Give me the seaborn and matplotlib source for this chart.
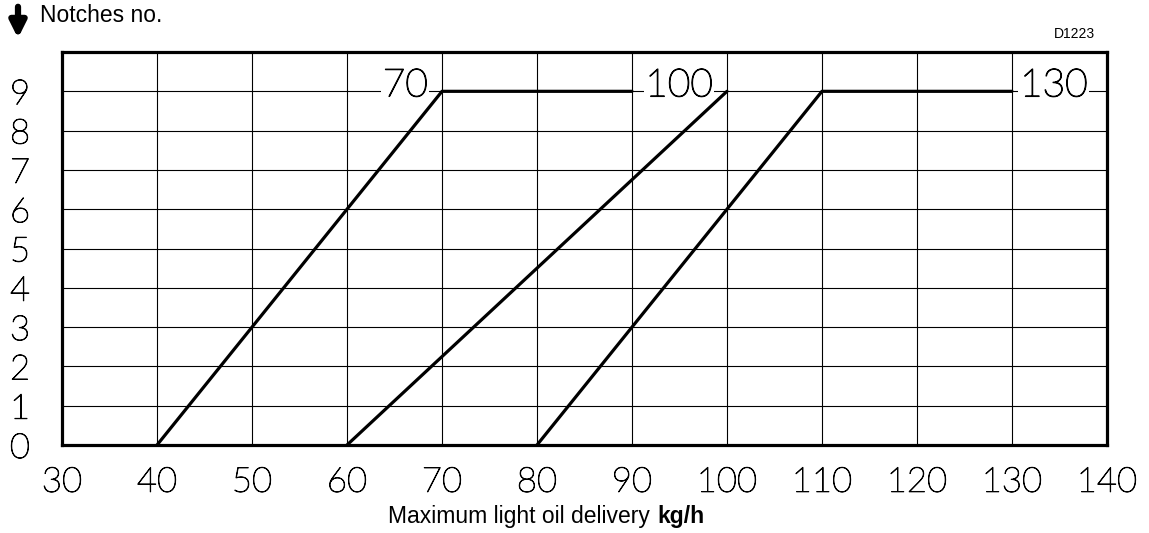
import pandas as pd
import matplotlib.pyplot as plt
import matplotlib.patheffects as pe
import seaborn as sns

# ---------- DATA ----------
curve_names = ["70", "100", "130"]
curve_x = [[40, 70, 90], [60, 100], [80, 110, 130]]
curve_y = [[0, 9, 9], [0, 9], [0, 9, 9]]
x_ticks = [30, 40, 50, 60, 70, 80, 90, 100, 110, 120, 130, 140]
y_ticks = [0, 1, 2, 3, 4, 5, 6, 7, 8, 9]

rows = []
for name, xs, ys in zip(curve_names, curve_x, curve_y):
    for i, (x, y) in enumerate(zip(xs, ys)):
        rows.append({"curve": name, "order": i, "delivery": x, "notch": y})
df = pd.DataFrame(rows)

# ---------- STYLE ----------
sns.set_theme(style="white")
plt.rcParams['font.family'] = ['Liberation Sans', 'DejaVu Sans']
plt.rcParams['text.color'] = 'black'
plt.rcParams['xtick.color'] = 'black'
plt.rcParams['ytick.color'] = 'black'
# thin technical-drawing digits: very light font, slightly thickened by a stroke
thin = [pe.withStroke(linewidth=0.7, foreground="black")]
TICK_FONT = dict(family='Lato', weight='light', size=25, color='black')

fig = plt.figure(figsize=(11.49, 5.33), dpi=100)
ax = fig.add_axes([0.054, 0.1651, 0.9094, 0.7373])

sns.lineplot(data=df, x="delivery", y="notch", units="curve", estimator=None,
             sort=False, color="black", linewidth=2.3, ax=ax, legend=False,
             zorder=3)

ax.set_xlim(30, 140)
ax.set_ylim(0, 10)
ax.set_xticks(x_ticks)
ax.set_yticks(y_ticks)
ax.set_xticklabels([str(v) for v in x_ticks], fontdict=TICK_FONT)
ax.set_yticklabels([str(v) for v in y_ticks], fontdict=TICK_FONT)
for lbl in ax.get_xticklabels() + ax.get_yticklabels():
    lbl.set_path_effects(thin)
ax.tick_params(axis="x", length=0, pad=15)
ax.tick_params(axis="y", length=0, pad=23)
ax.grid(True, color="black", linewidth=0.8, zorder=0)
ax.set_axisbelow(True)
for sp in ax.spines.values():
    sp.set_visible(True)
    sp.set_color("black")
    sp.set_linewidth(2.3)
    sp.set_zorder(4)
ax.set_xlabel("")
ax.set_ylabel("")

# curve labels on the 9-notch line
label_font = dict(family='Lato', weight='light', size=28, color='black')
bbox = dict(facecolor="white", edgecolor="none", pad=1)
for x, txt, ha in [(68.5, "70", "right"), (98.5, "100", "right"), (130.85, "130", "left")]:
    t = ax.text(x, 9.15, txt, ha=ha, va="center", bbox=bbox, zorder=2, **label_font)
    t.set_path_effects([pe.withStroke(linewidth=0.9, foreground="black")])

# header and axis titles
fig.text(40 / 1149, 1 - 16 / 533, "Notches no.", fontsize=16.5, ha="left", va="center")
ax.annotate("", xy=(18 / 1149, 1 - 41 / 533), xytext=(18 / 1149, 1 - 4 / 533),
            xycoords="figure fraction", textcoords="figure fraction",
            arrowprops=dict(arrowstyle="-|>,head_width=0.4,head_length=0.8",
                            color="black", linewidth=4.5))
fig.text(1095 / 1149, 1 - 34 / 533, "D1223", fontsize=10, ha="right", va="center")
fig.text(650 / 1149, 1 - 517 / 533, "Maximum light oil delivery", fontsize=16.5,
         ha="right", va="center")
fig.text(657 / 1149, 1 - 517 / 533, "kg/h", fontsize=16.5, fontweight="bold",
         ha="left", va="center")

fig.savefig("out.png", dpi=100)
